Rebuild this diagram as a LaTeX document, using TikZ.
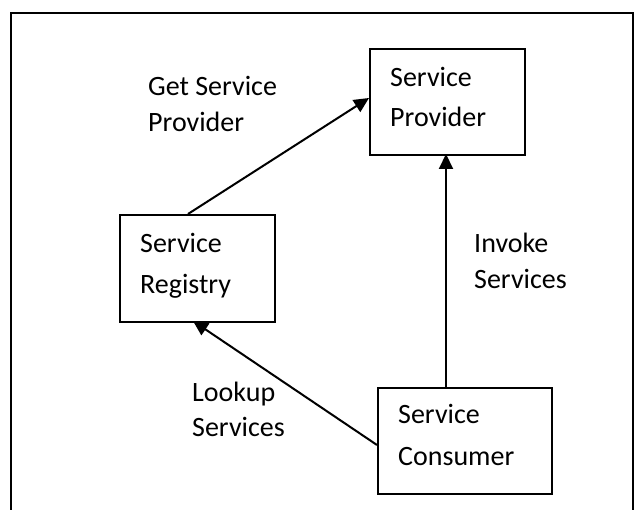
\documentclass[tikz,border=0pt]{standalone}
\usepackage{fontspec}
\setmainfont{Carlito}
\usetikzlibrary{arrows.meta}
\begin{document}
\begin{tikzpicture}[x=1pt,y=-1pt,
  box/.style={draw, line width=1.8pt, inner sep=0pt, anchor=north west},
  txt/.style={anchor=base west, inner sep=0pt, font=\fontsize{28}{34}\selectfont},
  conn/.style={line width=2pt, -{Triangle[length=15pt,width=14pt]}},
  frm/.style={line width=1.8pt}]
\useasboundingbox (0,0) rectangle (638,510);
% frame
\coordinate (f1) at (11,520);
\coordinate (f2) at (11,13);
\coordinate (f3) at (633,13);
\coordinate (f4) at (633,520);
\draw[frm] (f1) -- (f2) -- (f3) -- (f4);
% boxes
\node[box, minimum width=155, minimum height=106] (prov) at (369,48) {};
\node[box, minimum width=155, minimum height=107] (reg) at (119,214) {};
\node[box, minimum width=174, minimum height=106] (cons) at (377,387) {};
% box texts
\node[txt] (provA) at (390,87) {Service};
\node[txt] (provB) at (390,127) {Provider};
\node[txt] (regA) at (140,253) {Service};
\node[txt] (regB) at (140,294) {Registry};
\node[txt] (consA) at (398,424) {Service};
\node[txt] (consB) at (398,466) {Consumer};
% labels
\node[txt] (getA) at (148,96) {Get Service};
\node[txt] (getB) at (148,132) {Provider};
\node[txt] (invA) at (474,253) {Invoke};
\node[txt] (invB) at (474,289) {Services};
\node[txt] (lookA) at (192,402) {Lookup};
\node[txt] (lookB) at (192,437) {Services};
% connectors
\coordinate (r1) at (188,214);
\coordinate (p1) at (369,98);
\coordinate (c1) at (446,387);
\coordinate (p2) at (446,154);
\coordinate (c2) at (377,445);
\coordinate (r2) at (193,321);
\draw[conn] (r1) -- (p1);
\draw[conn] (c1) -- (p2);
\draw[conn] (c2) -- (r2);
\end{tikzpicture}
\end{document}
